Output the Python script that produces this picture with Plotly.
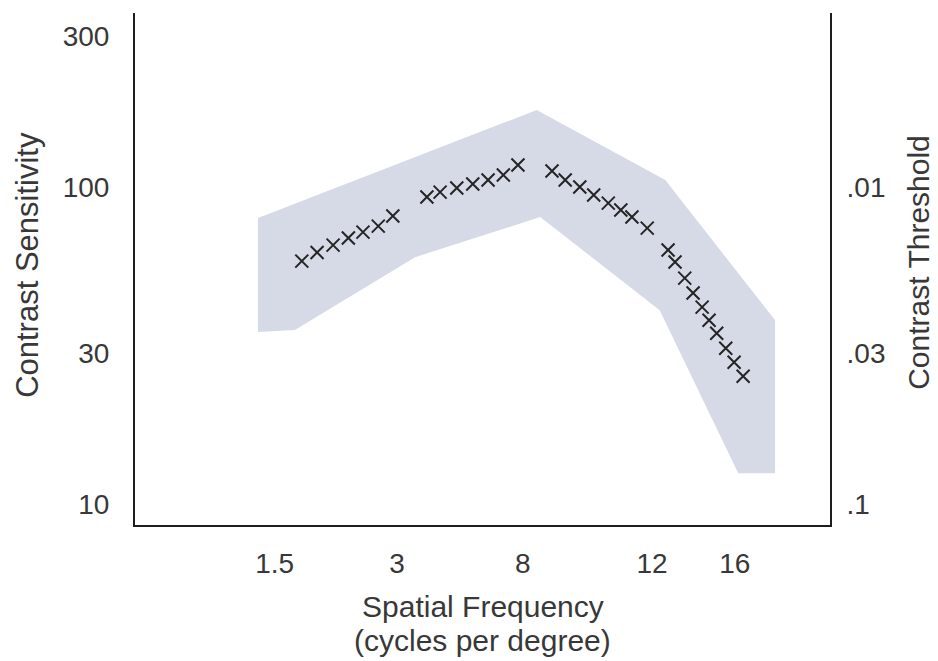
import plotly.graph_objects as go

# Horizontal axis: position of each spatial-frequency label along the axis
freq_pos = [2.01, 3.77, 5.58, 7.44, 8.63]
freq_labels = ["1.5", "3", "8", "12", "16"]

# Measured contrast sensitivity, in four runs of points
run1_pos = [2.40, 2.62, 2.85, 3.07, 3.28, 3.50, 3.71]
run1_sens = [58.4, 62.2, 65.6, 69.1, 72.1, 75.3, 81.0]

run2_pos = [4.20, 4.39, 4.63, 4.86, 5.08, 5.30, 5.51]
run2_sens = [93.0, 96.4, 99.3, 102.2, 105.2, 109.1, 117.3]

run3_pos = [6.00, 6.19, 6.40, 6.60, 6.81, 6.99, 7.15, 7.37]
run3_sens = [112.3, 105.2, 100.0, 94.4, 89.0, 84.6, 80.4, 74.2]

run4_pos = [7.67, 7.77, 7.91, 8.03, 8.16, 8.26, 8.37, 8.50, 8.62, 8.75]
run4_sens = [63.3, 58.0, 51.6, 46.3, 41.8, 38.0, 34.6, 31.0, 28.0, 25.3]

# Normal-range envelope (upper edge left to right, then lower edge back)
band_pos = [1.77, 5.78, 7.63, 9.21, 9.21, 8.68, 7.55, 5.83, 4.03, 2.30, 1.77]
band_sens = [79.8, 175.0, 105.2, 38.0, 12.5, 12.5, 40.9, 80.4, 60.1, 35.4, 34.9]

# Left axis: sensitivity; right axis: threshold (= 1 / sensitivity)
sens_ticks = [10, 30, 100, 300]
thresh_at_sens = [100, 30, 10]
thresh_labels = [".01", ".03", ".1"]

pts_pos = run1_pos + run2_pos + run3_pos + run4_pos
pts_sens = run1_sens + run2_sens + run3_sens + run4_sens

FONT = "Liberation Sans, Arial, Helvetica, sans-serif"
TEXT = "#383838"
AXIS = "#1e1e1e"
Y_RANGE = [0.934, 2.549]
TICK_SIZE = 28
TITLE_SIZE = 30

fig = go.Figure()

fig.add_trace(go.Scatter(
    x=band_pos, y=band_sens, mode="lines", fill="toself",
    fillcolor="#d6dae6", line=dict(width=0, color="#d6dae6"),
    hoverinfo="skip", showlegend=False,
))

fig.add_trace(go.Scatter(
    x=pts_pos, y=pts_sens, mode="markers",
    marker=dict(symbol="x-thin", size=13, line=dict(width=2, color="#242424")),
    showlegend=False,
))

# carries the threshold axis on the right
fig.add_trace(go.Scatter(
    x=band_pos, y=band_sens, yaxis="y2", mode="none",
    hoverinfo="skip", showlegend=False,
))

fig.update_layout(
    width=938, height=661,
    margin=dict(l=135, r=108, t=13, b=136),
    paper_bgcolor="white", plot_bgcolor="white",
    font=dict(family=FONT, color=TEXT, size=TICK_SIZE),
    xaxis=dict(
        range=[0, 10], tickmode="array", tickvals=freq_pos, ticktext=freq_labels,
        showgrid=False, zeroline=False, showline=True, linecolor=AXIS, linewidth=2,
        ticks="", ticklabelstandoff=12, tickfont=dict(size=TICK_SIZE, color=TEXT),
    ),
    yaxis=dict(
        type="log", range=Y_RANGE, tickmode="array", tickvals=sens_ticks,
        ticktext=[str(v) for v in sens_ticks],
        showgrid=False, zeroline=False, showline=True, linecolor=AXIS, linewidth=2,
        ticks="", ticklabelstandoff=18, tickfont=dict(size=TICK_SIZE, color=TEXT),
    ),
    yaxis2=dict(
        type="log", range=Y_RANGE, overlaying="y", side="right",
        tickmode="array", tickvals=thresh_at_sens, ticktext=thresh_labels,
        showgrid=False, zeroline=False, showline=True, linecolor=AXIS, linewidth=2,
        ticks="", ticklabelstandoff=9, tickfont=dict(size=TICK_SIZE, color=TEXT),
    ),
    annotations=[
        dict(text="Spatial Frequency", xref="paper", yref="paper",
             x=0.5, y=-0.16, xanchor="center", yanchor="middle",
             showarrow=False, font=dict(size=TITLE_SIZE, color=TEXT)),
        dict(text="(cycles per degree)", xref="paper", yref="paper",
             x=0.5, y=-0.225, xanchor="center", yanchor="middle",
             showarrow=False, font=dict(size=TITLE_SIZE, color=TEXT)),
        dict(text="Contrast Sensitivity", xref="paper", yref="paper",
             x=-0.154, y=0.508, xanchor="center", yanchor="middle", textangle=-90,
             showarrow=False, font=dict(size=31, color=TEXT)),
        dict(text="Contrast Threshold", xref="paper", yref="paper",
             x=1.128, y=0.514, xanchor="center", yanchor="middle", textangle=-90,
             showarrow=False, font=dict(size=TITLE_SIZE, color=TEXT)),
    ],
)

fig.write_html("out.html")
